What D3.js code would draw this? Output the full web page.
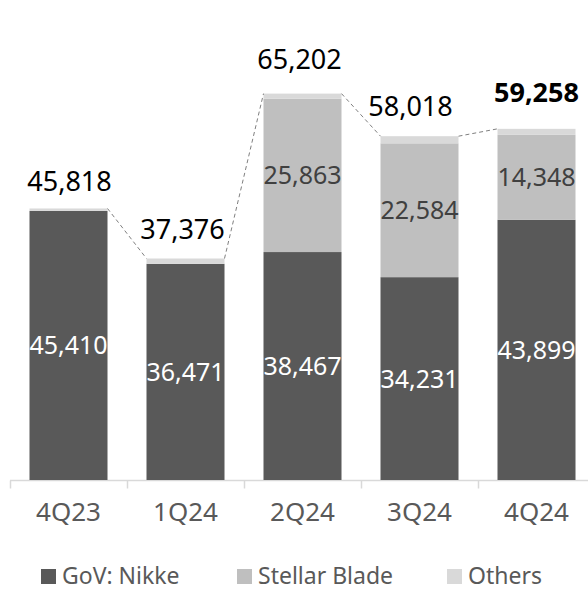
<!DOCTYPE html>
<html>
<head>
<meta charset="utf-8">
<script src="https://cdn.jsdelivr.net/npm/d3@7"></script>
<style>
  body{margin:0;background:#fff;}
  text{font-family:"Noto Sans",sans-serif;}
</style>
</head>
<body>
<script>
var quarters=["4Q23","1Q24","2Q24","3Q24","4Q24"];
var nikke=[45410,36471,38467,34231,43899];
var stellar=[0,0,25863,22584,14348];
var others=[408,905,872,1203,1011];
var totals=[45818,37376,65202,58018,59258];
var seriesNames=["GoV: Nikke","Stellar Blade","Others"];
var seriesColors=["#595959","#bfbfbf","#d9d9d9"];

// little nudges of the total labels, as they sit in the picture
var labelLift=[17,20,25,20,27];
var labelShift=[1,-3,-3,-9,0];

var drawGraph=function(w,h)
{
  var svg=d3.select("body").append("svg")
            .attr("width",w)
            .attr("height",h);

  var xScale=d3.scaleBand()
               .domain(quarters)
               .range([10,595])
               .paddingInner(1/3)
               .paddingOuter(1/6);
  var yScale=d3.scaleLinear()
               .domain([0,81000])
               .range([480,0]);

  var rows=quarters.map(function(q,i){
    return {q:q,"GoV: Nikke":nikke[i],"Stellar Blade":stellar[i],"Others":others[i],total:totals[i]};
  });
  var stack=d3.stack().keys(seriesNames)(rows);

  //axis
  var xAxis=d3.axisBottom(xScale).tickSize(0).tickPadding(0).tickFormat("");
  var axisG=svg.append("g").classed("xAxis",true)
     .attr("transform","translate(0,480.5)")
     .call(xAxis);
  axisG.select(".domain").remove();
  axisG.append("line")
       .attr("x1",10).attr("x2",w)
       .attr("stroke","#d9d9d9").attr("stroke-width",1.5);
  var bounds=quarters.map(function(q){return xScale(q)-xScale.step()*xScale.paddingInner()/2;});
  axisG.selectAll("line.tk")
       .data(bounds)
       .enter()
       .append("line")
       .classed("tk",true)
       .attr("x1",function(d){return Math.round(d)+0.5;})
       .attr("x2",function(d){return Math.round(d)+0.5;})
       .attr("y1",0).attr("y2",8)
       .attr("stroke","#d9d9d9").attr("stroke-width",1.5);

  //bars
  var layers=svg.append("g").selectAll("g")
                .data(stack)
                .enter()
                .append("g")
                .attr("fill",function(d,i){return seriesColors[i];});
  layers.selectAll("rect")
        .data(function(d){return d;})
        .enter()
        .append("rect")
        .attr("x",function(d){return xScale(d.data.q);})
        .attr("width",xScale.bandwidth())
        .attr("y",function(d){return yScale(d[1]);})
        .attr("height",function(d){return yScale(d[0])-yScale(d[1]);});

  //segment labels
  var fmt=d3.format(",");
  [0,1].forEach(function(k){
    svg.append("g").selectAll("text")
       .data(stack[k].filter(function(d){return d[1]-d[0]>0;}))
       .enter()
       .append("text")
       .attr("x",function(d){return xScale(d.data.q)+xScale.bandwidth()/2;})
       .attr("y",function(d){return (yScale(d[0])+yScale(d[1]))/2;})
       .attr("dy","0.36em")
       .attr("text-anchor","middle")
       .attr("font-size",25)
       .attr("fill",k==0?"#ffffff":"#404040")
       .text(function(d){return fmt(d[1]-d[0]);});
  });

  //dashed connectors between tops
  var links=d3.pairs(quarters.map(function(q,i){return {q:q,t:totals[i]};}));
  svg.append("g").selectAll("line")
     .data(links)
     .enter()
     .append("line")
     .attr("x1",function(d){return xScale(d[0].q)+xScale.bandwidth();})
     .attr("y1",function(d){return yScale(d[0].t);})
     .attr("x2",function(d){return xScale(d[1].q);})
     .attr("y2",function(d){return yScale(d[1].t);})
     .attr("stroke","#7f7f7f")
     .attr("stroke-width",1)
     .attr("stroke-dasharray","4,3");

  //totals
  svg.append("g").selectAll("text")
     .data(rows)
     .enter()
     .append("text")
     .attr("x",function(d,i){return xScale(d.q)+xScale.bandwidth()/2+labelShift[i];})
     .attr("y",function(d,i){return yScale(d.total)-labelLift[i];})
     .attr("text-anchor","middle")
     .attr("font-size",27)
     .attr("font-weight",function(d,i){return i==rows.length-1?"bold":"normal";})
     .attr("fill","#000")
     .text(function(d){return fmt(d.total);});

  //category labels
  svg.append("g").selectAll("text")
     .data(quarters)
     .enter()
     .append("text")
     .attr("x",function(d){return xScale(d)+xScale.bandwidth()/2;})
     .attr("y",521)
     .attr("text-anchor","middle")
     .attr("font-size",26)
     .attr("fill","#595959")
     .text(function(d){return d;});

  //the legend
  var legendX=[41,237,447];
  var legendLines=svg.append("g").classed("legend",true)
                     .selectAll("g")
                     .data(seriesNames)
                     .enter()
                     .append("g")
                     .attr("transform",function(d,i){return "translate("+legendX[i]+",569)";});
  legendLines.append("rect")
             .attr("x",0).attr("y",0)
             .attr("width",15).attr("height",15)
             .attr("fill",function(d,i){return seriesColors[i];});
  legendLines.append("text")
             .attr("x",21).attr("y",15)
             .attr("font-size",23)
             .attr("fill","#595959")
             .text(function(d){return d;});
};

drawGraph(588,592);
</script>
</body>
</html>
